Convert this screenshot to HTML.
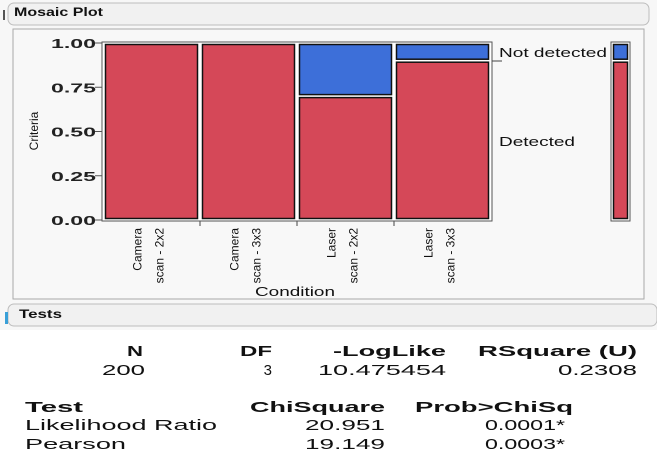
<!DOCTYPE html>
<html><head><meta charset="utf-8"><style>
html,body{margin:0;padding:0;background:#fff;}
body{width:657px;height:471px;overflow:hidden;font-family:"Liberation Sans",sans-serif;}
</style></head><body>
<svg id="chart" width="657" height="471" xmlns="http://www.w3.org/2000/svg" font-family="Liberation Sans, sans-serif">
  <rect x="0" y="0" width="657" height="471" fill="#fff"/>
  <rect x="0" y="0" width="657" height="455" fill="#f7f7f7"/>
  <rect x="0" y="455" width="657" height="16" fill="#fff"/>
  <rect x="8" y="3" width="641" height="22" rx="6" fill="#f1f1f1" stroke="#bdbdbd"/>
  <rect x="3" y="10" width="2" height="10" fill="#555"/>
  <text x="14" y="16" font-size="12" font-weight="bold" fill="#111" textLength="89" lengthAdjust="spacingAndGlyphs">Mosaic Plot</text>
  <rect x="13" y="29" width="631" height="270" fill="#f8f8f8" stroke="#a9a9a9"/>
  <g id="axes"></g>
  <g id="marks"></g>
  <text transform="translate(38,131) rotate(-90)" text-anchor="middle" font-size="12" fill="#111">Criteria</text>
  <text x="255" y="296" font-size="13" fill="#111" textLength="80" lengthAdjust="spacingAndGlyphs">Condition</text>
  <text x="499" y="57" font-size="13" fill="#111" textLength="108" lengthAdjust="spacingAndGlyphs">Not detected</text>
  <text x="499" y="146" font-size="13" fill="#111" textLength="76" lengthAdjust="spacingAndGlyphs">Detected</text>
  <line x1="492" y1="61" x2="502" y2="61" stroke="#444"/>

  <rect x="8" y="304" width="649" height="22" rx="6" fill="#f1f1f1" stroke="#bdbdbd"/>
  <rect x="5" y="312" width="3" height="12" fill="#3aa0d8"/>
  <text x="19" y="318" font-size="12" font-weight="bold" fill="#111" textLength="43" lengthAdjust="spacingAndGlyphs">Tests</text>
  <rect x="0" y="330" width="657" height="125" fill="#fff"/>
  <g font-size="15" fill="#111">
    <text x="127" y="356" font-weight="bold" textLength="16" lengthAdjust="spacingAndGlyphs">N</text>
    <text x="240" y="356" font-weight="bold" textLength="32" lengthAdjust="spacingAndGlyphs">DF</text>
    <text x="333" y="356" font-weight="bold" textLength="113" lengthAdjust="spacingAndGlyphs">-LogLike</text>
    <text x="478" y="356" font-weight="bold" textLength="159" lengthAdjust="spacingAndGlyphs">RSquare (U)</text>
    <text x="102" y="375" textLength="43" lengthAdjust="spacingAndGlyphs">200</text>
    <text x="272" y="375" text-anchor="end">3</text>
    <text x="318" y="375" textLength="128" lengthAdjust="spacingAndGlyphs">10.475454</text>
    <text x="558" y="375" textLength="79" lengthAdjust="spacingAndGlyphs">0.2308</text>
  </g>
  <g font-size="15" fill="#111">
    <text x="25" y="412" font-weight="bold" textLength="58" lengthAdjust="spacingAndGlyphs">Test</text>
    <text x="250" y="412" font-weight="bold" textLength="135" lengthAdjust="spacingAndGlyphs">ChiSquare</text>
    <text x="415" y="412" font-weight="bold" textLength="158" lengthAdjust="spacingAndGlyphs">Prob&gt;ChiSq</text>
    <text x="25" y="430" textLength="192" lengthAdjust="spacingAndGlyphs">Likelihood Ratio</text>
    <text x="305" y="430" textLength="80" lengthAdjust="spacingAndGlyphs">20.951</text>
    <text x="485" y="430" textLength="80" lengthAdjust="spacingAndGlyphs">0.0001*</text>
    <text x="25" y="449" textLength="101" lengthAdjust="spacingAndGlyphs">Pearson</text>
    <text x="305" y="449" textLength="80" lengthAdjust="spacingAndGlyphs">19.149</text>
    <text x="485" y="449" textLength="80" lengthAdjust="spacingAndGlyphs">0.0003*</text>
  </g>
</svg>
<script>
const categories = ["Camera|scan - 2x2","Camera|scan - 3x3","Laser|scan - 2x2","Laser|scan - 3x3"];
const counts = [50,50,50,50];
const detected = [1.0,1.0,0.70,0.90];
const overallDetected = [0.90];
const yTicks = [0,0.25,0.5,0.75,1.0];
const yTickLabels = ["0.00","0.25","0.50","0.75","1.00"];

const NS="http://www.w3.org/2000/svg";
const X0=103,X1=491,Y0=220,Y1=43;
const total=counts.reduce((a,b)=>a+b,0);
function xs(c){return X0+(X1-X0)*c/total;}
function ys(v){return Y0-(Y0-Y1)*v;}
function mk(tag,attrs,parent){const e=document.createElementNS(NS,tag);for(const k in attrs)e.setAttribute(k,attrs[k]);parent.appendChild(e);return e;}
const axes=document.getElementById('axes'),marks=document.getElementById('marks');
mk('rect',{x:X0-1,y:Y1-1,width:X1-X0+2,height:Y0-Y1+2,fill:'#fff',stroke:'#555'},marks);
yTicks.forEach((t,i)=>{
  const l=mk('line',{x1:X0-8,x2:X0-1,y1:ys(t),y2:ys(t),stroke:'#555'},axes);
  
  
  const tx=mk('text',{x:X0-52,y:ys(t)+5,'font-size':'13','font-weight':'bold',fill:'#222',textLength:'45',lengthAdjust:'spacingAndGlyphs'},axes);
  tx.textContent=yTickLabels[i];
  
  
});
let cum=0;
categories.forEach((cat,i)=>{
  const a=xs(cum),b=xs(cum+counts[i]);cum+=counts[i];
  if(i>0){const tk=mk('line',{x1:a,x2:a,y1:Y0+1,y2:Y0+6,stroke:'#444'},axes);
    
    }
  const yd=ys(detected[i]);
  const r=mk('rect',{x:a+2.5,y:yd+1.5,width:b-a-5,height:Y0-yd-3,fill:'#d54858',stroke:'#111','stroke-width':'1.5'},marks);
  
  
  if(detected[i]<1){
    const r2=mk('rect',{x:a+2.5,y:Y1+1.5,width:b-a-5,height:yd-Y1-3,fill:'#3d6fd9',stroke:'#111','stroke-width':'1.5'},marks);
    
    
  }
  const cx=(a+b)/2;const parts=cat.split('|');
  parts.forEach((p,j)=>{
    const t=mk('text',{transform:`translate(${cx-10+j*22},${Y0+8}) rotate(-90)`,'text-anchor':'end','font-size':'12',fill:'#111'},axes);
    t.textContent=p;
    
    
  });
});
const MX0=612,MX1=629;
mk('rect',{x:MX0-1,y:Y1-1,width:MX1-MX0+2,height:Y0-Y1+2,fill:'#fff',stroke:'#555'},marks);
const md=ys(overallDetected[0]);
const m1=mk('rect',{x:MX0+1.5,y:md+1.5,width:MX1-MX0-3,height:Y0-md-3,fill:'#d54858',stroke:'#111','stroke-width':'1.5'},marks);


const m2=mk('rect',{x:MX0+1.5,y:Y1+1.5,width:MX1-MX0-3,height:md-Y1-3,fill:'#3d6fd9',stroke:'#111','stroke-width':'1.5'},marks);


</script>
</body></html>
